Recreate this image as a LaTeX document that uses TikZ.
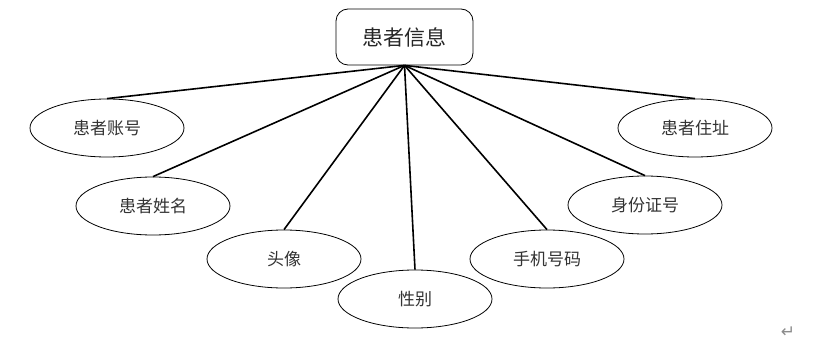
\documentclass[tikz,border=0pt]{standalone}
\usepackage{fontspec}
\setmainfont{Noto Sans CJK SC}
\newfontfamily\symfont{DejaVu Sans}
\usetikzlibrary{shapes.geometric}
\tikzset{
  attr/.style={draw=black, line width=0.8pt, ellipse, minimum width=154pt, minimum height=58pt, inner sep=0pt, font=\fontsize{17}{19}\selectfont, text=black!80},
  entity/.style={draw=black, line width=0.8pt, rounded corners=12pt, minimum width=137pt, minimum height=56pt, inner sep=0pt, font=\fontsize{21}{24}\selectfont, text=black!85},
  link/.style={line width=1.6pt, black}
}
\begin{document}
\begin{tikzpicture}[x=1pt,y=-1pt]
\useasboundingbox (0,0) rectangle (819,348);
\node[entity] (e) at (404.5,37) {患者信息};
\coordinate (hub) at (e.south);
\node[attr] (a1) at (107,128) {患者账号};
\node[attr] (a2) at (153,206) {患者姓名};
\node[attr] (a3) at (284,259) {头像};
\node[attr] (a4) at (415,299) {性别};
\node[attr] (a5) at (547,259) {手机号码};
\node[attr] (a6) at (645,205) {身份证号};
\node[attr] (a7) at (695,128) {患者住址};
\foreach \n in {a1,a2,a3,a4,a5,a6,a7} \draw[link] (hub) -- (\n.north);
\node[font=\symfont\fontsize{17}{19}\selectfont, text=black!45, inner sep=0pt] (ret) at (788,332) {↵};
\end{tikzpicture}
\end{document}
